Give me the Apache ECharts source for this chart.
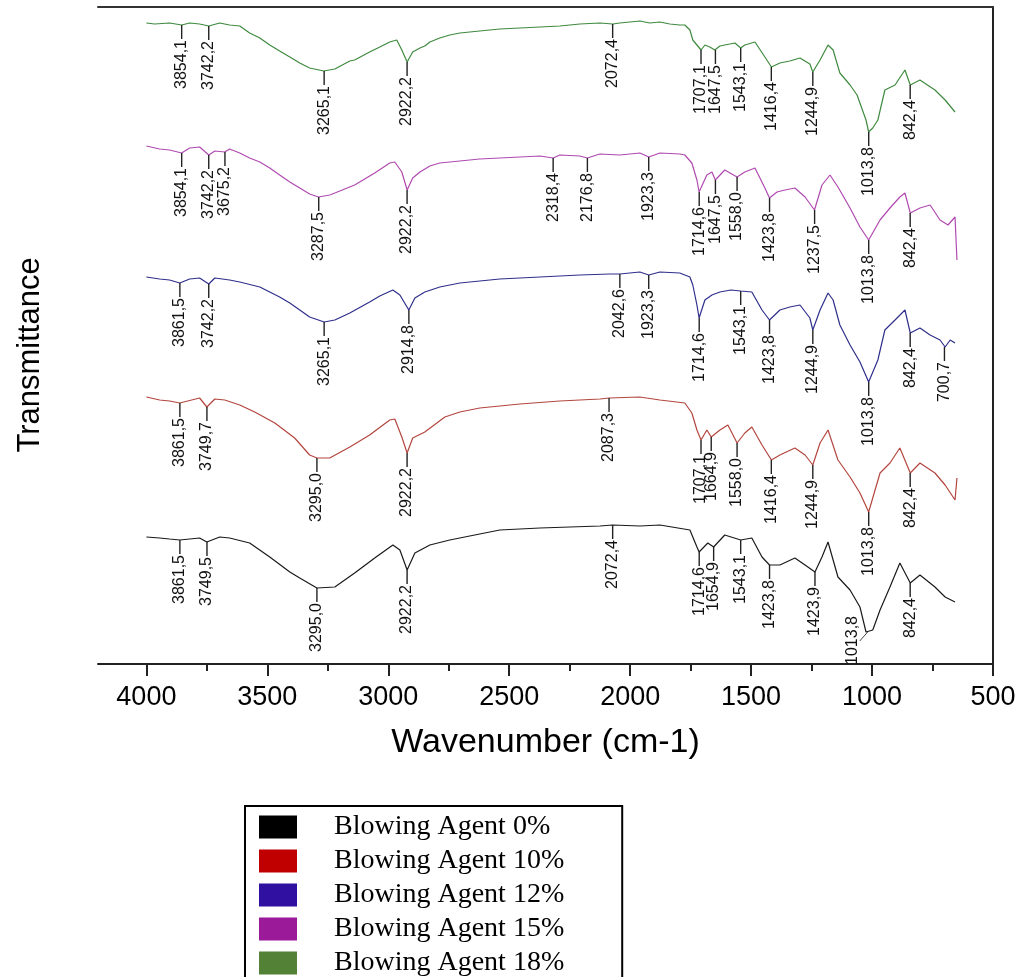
<!DOCTYPE html>
<html>
<head>
<meta charset="utf-8">
<script src="https://cdn.jsdelivr.net/npm/echarts@6/dist/echarts.min.js"></script>
<style>
  html, body { margin: 0; padding: 0; background: #fff; }
  #main { width: 1020px; height: 977px; }
</style>
</head>
<body>
<div id="main"></div>
<script>
// series names, in legend order
const seriesNames = ['Blowing Agent 0%', 'Blowing Agent 10%', 'Blowing Agent 12%', 'Blowing Agent 15%', 'Blowing Agent 18%'];

// x axis ticks
const majorTicks = [500, 1000, 1500, 2000, 2500, 3000, 3500, 4000];
const minorTicks = [750, 1250, 1750, 2250, 2750, 3250, 3750];

// spectra: [wavenumber, transmittance (a.u., stacked)]
const spec0 = [
  [4000, 12.7], [3945, 12.6], [3904, 12.5], [3862, 12.4], [3780, 12.6], [3750, 12.2], [3697, 12.7], [3656, 12.6],
  [3573, 12.1], [3490, 10.7], [3407, 9.2], [3366, 8.6], [3295, 7.6], [3221, 7.7], [3139, 9.1], [3056, 10.6],
  [2981, 11.9], [2952, 11.4], [2922, 9.4], [2890, 11.1], [2828, 11.9], [2746, 12.4], [2539, 13.4], [2373, 13.6],
  [2125, 13.8], [2072, 13.9], [1960, 13.8], [1877, 13.9], [1753, 13.4], [1724, 11.7], [1715, 11.2], [1679, 12.1],
  [1655, 11.7], [1609, 12.9], [1543, 12.4], [1497, 12.6], [1455, 10.7], [1424, 9.9], [1381, 9.9], [1319, 10.6],
  [1277, 9.9], [1236, 9.2], [1207, 10.7], [1182, 12.2], [1141, 8.7], [1091, 7.4], [1050, 5.7], [1025, 3.2],
  [997, 3.4], [967, 5.4], [926, 7.7], [885, 10.1], [842, 8.1], [802, 8.9], [740, 7.7], [698, 6.7], [657, 6.2]
];
const spec10 = [
  [4000, 26.7], [3945, 26.4], [3904, 26.3], [3862, 26.1], [3780, 26.6], [3750, 25.7], [3717, 26.5], [3676, 26.4],
  [3614, 25.9], [3552, 25.2], [3469, 24.1], [3387, 22.6], [3325, 20.9], [3295, 20.6], [3242, 20.6], [3159, 21.7],
  [3077, 22.9], [2994, 24.4], [2973, 24.5], [2944, 22.7], [2922, 21.1], [2899, 22.6], [2849, 23.2], [2766, 24.7],
  [2704, 25.2], [2622, 25.6], [2456, 26.0], [2291, 26.3], [2125, 26.5], [2087, 26.6], [1960, 26.7], [1877, 26.4],
  [1774, 26.1], [1745, 25.1], [1724, 23.4], [1707, 22.4], [1683, 23.4], [1665, 22.7], [1629, 23.4], [1596, 23.9],
  [1558, 22.1], [1526, 23.1], [1497, 23.7], [1455, 21.9], [1416, 20.4], [1381, 20.9], [1319, 21.6], [1277, 20.9],
  [1245, 19.9], [1215, 22.1], [1182, 23.4], [1141, 20.4], [1091, 18.7], [1050, 17.1], [1014, 15.2], [967, 19.1],
  [926, 20.1], [885, 21.6], [842, 19.1], [802, 20.1], [740, 19.1], [698, 17.9], [657, 16.4], [649, 18.6]
];
const spec12 = [
  [4000, 38.7], [3945, 38.5], [3904, 38.4], [3862, 38.1], [3821, 38.5], [3780, 38.6], [3742, 38.0], [3717, 38.6],
  [3656, 38.4], [3614, 38.2], [3531, 37.7], [3449, 36.7], [3407, 36.1], [3366, 35.4], [3325, 34.7], [3265, 34.2],
  [3221, 34.4], [3159, 35.1], [3077, 36.2], [3035, 36.8], [2981, 37.4], [2952, 36.9], [2915, 35.4], [2890, 36.6],
  [2849, 37.2], [2787, 37.7], [2704, 38.1], [2539, 38.5], [2373, 38.7], [2208, 38.9], [2084, 39.0], [2043, 39.0],
  [1960, 39.2], [1923, 38.9], [1877, 39.2], [1795, 39.1], [1753, 38.7], [1741, 37.9], [1724, 35.9], [1715, 34.6],
  [1691, 36.4], [1662, 36.9], [1629, 37.2], [1584, 37.4], [1543, 37.3], [1497, 37.2], [1455, 35.4], [1424, 34.4],
  [1381, 35.4], [1340, 35.7], [1298, 35.9], [1257, 34.6], [1245, 33.4], [1215, 35.4], [1182, 37.1], [1161, 36.4],
  [1133, 33.9], [1091, 31.9], [1050, 30.2], [1014, 28.2], [976, 30.4], [947, 33.4], [905, 34.4], [864, 35.4],
  [842, 33.1], [802, 33.6], [760, 32.9], [719, 32.4], [698, 31.7], [677, 32.4], [657, 32.1]
];
const spec15 = [
  [4000, 51.8], [3945, 51.5], [3904, 51.4], [3854, 51.1], [3821, 51.6], [3780, 51.7], [3742, 50.9], [3717, 51.3],
  [3676, 51.2], [3656, 51.5], [3614, 51.1], [3573, 50.6], [3531, 50.2], [3490, 49.6], [3449, 48.9], [3407, 48.2],
  [3366, 47.6], [3325, 47.0], [3288, 46.7], [3242, 46.9], [3221, 47.1], [3139, 47.9], [3056, 49.1], [2994, 50.1],
  [2973, 50.2], [2944, 49.2], [2922, 47.4], [2899, 48.6], [2869, 49.2], [2828, 49.8], [2787, 50.1], [2746, 50.2],
  [2622, 50.5], [2539, 50.6], [2456, 50.7], [2373, 50.8], [2318, 50.6], [2291, 50.9], [2208, 50.8], [2177, 50.6],
  [2125, 51.0], [2043, 50.9], [1960, 51.1], [1923, 50.7], [1877, 51.1], [1795, 51.0], [1774, 50.9], [1745, 50.1],
  [1724, 48.4], [1715, 47.2], [1683, 48.9], [1662, 49.2], [1648, 48.4], [1609, 49.4], [1558, 48.7], [1526, 49.2],
  [1484, 49.6], [1443, 47.6], [1424, 46.6], [1393, 47.2], [1360, 47.4], [1319, 47.6], [1277, 46.7], [1238, 45.4],
  [1207, 47.9], [1174, 48.9], [1141, 47.7], [1091, 45.6], [1050, 43.7], [1014, 42.4], [967, 44.4], [926, 45.6],
  [885, 46.7], [864, 47.1], [842, 45.1], [802, 45.6], [760, 45.9], [719, 44.4], [686, 43.9], [657, 44.7], [649, 40.4]
];
const spec18 = [
  [4000, 64.1], [3966, 64.0], [3904, 64.1], [3854, 63.9], [3821, 64.1], [3780, 64.0], [3742, 63.8], [3697, 64.1],
  [3656, 63.9], [3614, 63.8], [3573, 63.1], [3531, 62.6], [3490, 61.9], [3449, 61.3], [3407, 60.7], [3366, 60.1],
  [3325, 59.6], [3267, 59.3], [3221, 59.5], [3159, 60.3], [3139, 60.4], [3077, 61.2], [3035, 61.7], [2994, 62.2],
  [2965, 62.4], [2944, 61.4], [2922, 60.2], [2899, 61.2], [2869, 61.6], [2849, 61.8], [2828, 62.2], [2787, 62.6],
  [2746, 62.9], [2704, 63.1], [2622, 63.3], [2539, 63.5], [2456, 63.6], [2373, 63.7], [2291, 63.8], [2208, 64.0],
  [2125, 64.1], [2072, 64.0], [2043, 64.1], [1960, 64.3], [1919, 64.1], [1877, 64.2], [1836, 64.0], [1795, 63.9],
  [1774, 63.9], [1753, 63.4], [1741, 62.4], [1724, 61.9], [1707, 61.4], [1691, 61.9], [1671, 61.7], [1650, 61.4],
  [1629, 61.8], [1609, 61.9], [1567, 62.1], [1543, 61.6], [1526, 61.9], [1484, 62.2], [1443, 60.7], [1416, 59.7],
  [1381, 60.1], [1340, 60.3], [1298, 60.6], [1257, 60.0], [1245, 59.2], [1215, 60.4], [1182, 61.9], [1161, 61.4],
  [1133, 59.1], [1091, 57.9], [1062, 56.9], [1025, 54.4], [1014, 53.2], [997, 53.6], [976, 54.4], [947, 57.4],
  [905, 57.9], [864, 59.4], [842, 57.9], [802, 58.4], [740, 57.4], [698, 56.4], [657, 55.2]
];

// peak annotations: [wavenumber, transmittance at peak, label]
const peaks0 = [
  [3861.5, 12.4, '3861,5'], [3749.5, 12.2, '3749,5'], [3295.0, 7.6, '3295,0'], [2922.2, 9.4, '2922,2'],
  [2072.4, 13.9, '2072,4'], [1714.6, 11.2, '1714,6'], [1654.9, 11.7, '1654,9'], [1543.1, 12.4, '1543,1'],
  [1423.8, 9.9, '1423,8'], [1236, 9.2, '1423,9'], [1013.8, 3.2, '1013,8'], [842.4, 8.1, '842,4']
];
const peaks10 = [
  [3861.5, 26.1, '3861,5'], [3749.7, 25.7, '3749,7'], [3295.0, 20.6, '3295,0'], [2922.2, 21.1, '2922,2'],
  [2087.3, 26.6, '2087,3'], [1707.1, 22.4, '1707,1'], [1664.9, 22.7, '1664,9'], [1558.0, 22.1, '1558,0'],
  [1416.4, 20.4, '1416,4'], [1244.9, 19.9, '1244,9'], [1013.8, 15.2, '1013,8'], [842.4, 19.1, '842,4']
];
const peaks12 = [
  [3861.5, 38.1, '3861,5'], [3742.2, 38.0, '3742,2'], [3265.1, 34.2, '3265,1'], [2914.8, 35.4, '2914,8'],
  [2042.6, 39.0, '2042,6'], [1923.3, 38.9, '1923,3'], [1714.6, 34.6, '1714,6'], [1543.1, 37.3, '1543,1'],
  [1423.8, 34.4, '1423,8'], [1244.9, 33.4, '1244,9'], [1013.8, 28.2, '1013,8'], [842.4, 33.1, '842,4'],
  [700.7, 31.7, '700,7']
];
const peaks15 = [
  [3854.1, 51.1, '3854,1'], [3742.2, 50.9, '3742,2'], [3675.2, 51.2, '3675,2'], [3287.5, 46.7, '3287,5'],
  [2922.2, 47.4, '2922,2'], [2318.4, 50.6, '2318,4'], [2176.8, 50.6, '2176,8'], [1923.3, 50.7, '1923,3'],
  [1714.6, 47.2, '1714,6'], [1647.5, 48.4, '1647,5'], [1558.0, 48.7, '1558,0'], [1423.8, 46.6, '1423,8'],
  [1237.5, 45.4, '1237,5'], [1013.8, 42.4, '1013,8'], [842.4, 45.1, '842,4']
];
const peaks18 = [
  [3854.1, 63.9, '3854,1'], [3742.2, 63.8, '3742,2'], [3265.1, 59.3, '3265,1'], [2922.2, 60.2, '2922,2'],
  [2072.4, 64.0, '2072,4'], [1707.1, 61.4, '1707,1'], [1647.5, 61.4, '1647,5'], [1543.1, 61.6, '1543,1'],
  [1416.4, 59.7, '1416,4'], [1244.9, 59.2, '1244,9'], [1013.8, 53.2, '1013,8'], [842.4, 57.9, '842,4']
];

const spectra = [spec0, spec10, spec12, spec15, spec18];
const peakSets = [peaks0, peaks10, peaks12, peaks15, peaks18];
const lineColors = ['#1a1a1a', '#b3463f', '#2f2f8c', '#b04ab0', '#3f8a3f'];
const legendColors = ['#000000', '#c00000', '#3010a0', '#9a1a9a', '#538135'];

const chart = echarts.init(document.getElementById('main'));

const lineSeries = spectra.map((d, i) => ({
  name: seriesNames[i],
  type: 'line',
  data: d,
  symbol: 'none',
  z: 3,
  lineStyle: { color: lineColors[i], width: 1.2 },
  itemStyle: { color: legendColors[i] }
}));

const labelFont = '16px "Liberation Sans", Arial, sans-serif';

// vertical leader line + rotated number under each marked peak
const peakSeries = peakSets.map((pk, i) => ({
  name: 'peaks' + i,
  type: 'custom',
  data: pk.map(p => [p[0], p[1]]),
  clip: false,
  z: 4,
  renderItem: (params, api) => {
    const pt = api.coord([api.value(0), api.value(1)]);
    const text = pk[params.dataIndex][2];
    // the 0% 1013,8 label sits to the left of the steep band, as in the original
    if (i === 0 && text === '1013,8') {
      return {
        type: 'group',
        children: [
          { type: 'line', shape: { x1: pt[0] - 1, y1: pt[1], x2: pt[0] - 9, y2: pt[1] + 9 },
            style: { stroke: '#444', lineWidth: 1 } },
          { type: 'text', x: pt[0] - 16, y: pt[1] - 16, rotation: Math.PI / 2,
            style: { text, fill: '#111', font: labelFont, align: 'right', verticalAlign: 'middle' } }
        ]
      };
    }
    const lead = 14;
    return {
      type: 'group',
      children: [
        {
          type: 'line',
          shape: { x1: pt[0], y1: pt[1], x2: pt[0], y2: pt[1] + lead },
          style: { stroke: '#222', lineWidth: 1.4 }
        },
        {
          type: 'text',
          x: pt[0],
          y: pt[1] + lead + 1,
          rotation: Math.PI / 2,
          style: { text, fill: '#111', font: labelFont, align: 'right', verticalAlign: 'middle' }
        }
      ]
    };
  }
}));

const plainNum = v => String(v);

const option = {
  backgroundColor: '#ffffff',
  animation: false,
  grid: { left: 98, right: 27, top: 7, bottom: 313 },
  legend: {
    data: seriesNames.map((n, i) => ({ name: n, itemStyle: { color: legendColors[i] } })),
    orient: 'vertical',
    left: 245,
    top: 806,
    height: 200,
    icon: 'rect',
    itemWidth: 38,
    itemHeight: 23,
    itemGap: 6,
    selectedMode: false,
    borderColor: '#000',
    borderWidth: 2,
    padding: [7, 58, 20, 14],
    textStyle: {
      fontFamily: '"Liberation Serif", "Times New Roman", serif',
      fontSize: 28,
      lineHeight: 23,
      color: '#000',
      padding: [0, 0, 0, 32]
    }
  },
  graphic: [
    {
      type: 'text',
      x: 30,
      y: 355,
      rotation: Math.PI / 2,
      style: {
        text: 'Transmittance',
        font: '31px "Liberation Sans", Arial, sans-serif',
        fill: '#000',
        align: 'center',
        verticalAlign: 'middle'
      }
    }
  ],
  xAxis: [
    {
      type: 'value',
      inverse: true,
      min: 500,
      max: 4200,
      interval: 500,
      name: 'Wavenumber (cm-1)',
      nameLocation: 'middle',
      nameGap: 62,
      nameTextStyle: { fontFamily: '"Liberation Sans", Arial', fontSize: 34, color: '#000' },
      axisLine: { onZero: false, lineStyle: { color: '#222', width: 2 } },
      axisTick: { length: 12, customValues: majorTicks, lineStyle: { color: '#222', width: 2 } },
      axisLabel: { fontFamily: '"Liberation Sans", Arial', fontSize: 27, color: '#000', margin: 20,
        customValues: majorTicks, formatter: plainNum },
      splitLine: { show: false }
    },
    {
      // short intermediate ticks
      type: 'value',
      inverse: true,
      position: 'bottom',
      min: 500,
      max: 4200,
      axisLine: { show: false, onZero: false },
      axisTick: { length: 7, customValues: minorTicks, lineStyle: { color: '#222', width: 2 } },
      axisLabel: { show: false },
      splitLine: { show: false }
    },
    {
      type: 'value',
      inverse: true,
      position: 'top',
      min: 500,
      max: 4200,
      axisLine: { onZero: false, lineStyle: { color: '#333', width: 2 } },
      axisTick: { show: false },
      axisLabel: { show: false },
      splitLine: { show: false }
    }
  ],
  yAxis: [
    {
      type: 'value',
      min: 0,
      max: 65.7,
      axisLine: { show: false },
      axisTick: { show: false },
      axisLabel: { show: false },
      splitLine: { show: false }
    },
    {
      type: 'value',
      position: 'right',
      min: 0,
      max: 65.7,
      axisLine: { show: true, onZero: false, lineStyle: { color: '#222', width: 2 } },
      axisTick: { show: false },
      axisLabel: { show: false },
      splitLine: { show: false }
    }
  ],
  series: [...lineSeries, ...peakSeries]
};

chart.setOption(option);
</script>
</body>
</html>
